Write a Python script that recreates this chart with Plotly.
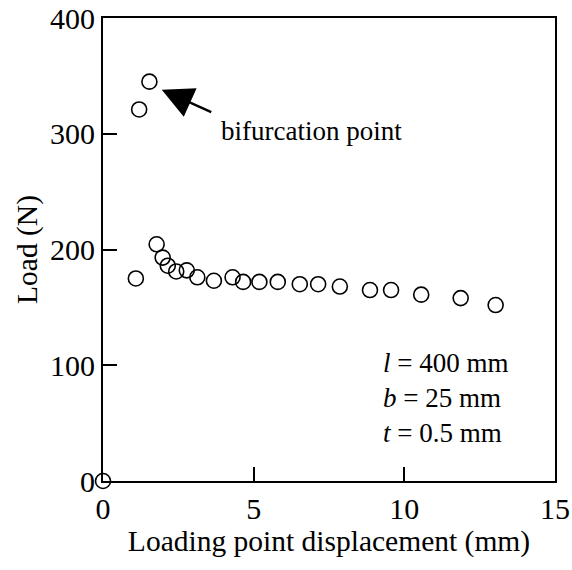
import plotly.graph_objects as go

# Data
disp = [0.0, 1.09, 1.20, 1.54, 1.78, 1.98, 2.15, 2.43, 2.78, 3.13, 3.68, 4.30, 4.65,
        5.19, 5.80, 6.53, 7.14, 7.86, 8.86, 9.56, 10.56, 11.87, 13.03]
load = [0, 175, 321, 345, 204.5, 193, 186, 181, 182, 176, 173, 176, 172,
        172, 172, 170, 170, 168, 165, 165, 161, 158, 152]

x_ticks = [0, 5, 10, 15]
y_ticks = [0, 100, 200, 300, 400]

FONT = "Liberation Serif, Times New Roman, serif"

fig = go.Figure()
fig.add_trace(go.Scatter(
    x=disp, y=load, mode="markers", cliponaxis=False,
    marker=dict(symbol="circle-open", size=15, color="black",
                line=dict(width=1.6, color="black")),
    showlegend=False,
))

fig.add_annotation(
    x=1.95, y=338, xref="x", yref="y", text="",
    showarrow=True, ax=51, ay=23, axref="pixel", ayref="pixel",
    arrowhead=2, arrowsize=2.6, arrowwidth=2.4, arrowcolor="black",
)
fig.add_annotation(
    x=3.85, y=302, xref="x", yref="y", text="bifurcation point",
    showarrow=False, xanchor="left", yanchor="middle",
    font=dict(family=FONT, size=27, color="black"),
)
fig.add_annotation(
    x=9.22, y=72, xref="x", yref="y",
    text="<i>l</i> = 400 mm<br><i>b</i> = 25 mm<br><i>t</i> = 0.5 mm",
    showarrow=False, xanchor="left", yanchor="middle", align="left",
    font=dict(family=FONT, size=27, color="black"),
)

axis_common = dict(
    showline=True, linecolor="black", linewidth=2, mirror=True,
    ticks="inside", ticklen=14, tickwidth=2, tickcolor="black",
    showgrid=False, zeroline=False, automargin=False,
    ticklabeloverflow="allow",
    tickfont=dict(family=FONT, size=30, color="black"),
)

fig.update_xaxes(range=[0, 15], tickvals=x_ticks, ticktext=[str(v) for v in x_ticks],
                 title=dict(text="Loading point displacement (mm)", standoff=4,
                            font=dict(family=FONT, size=29.5, color="black")),
                 **axis_common)
fig.update_yaxes(range=[0, 400], tickvals=y_ticks, ticktext=[str(v) for v in y_ticks],
                 title=dict(text="Load (N)", standoff=4,
                            font=dict(family=FONT, size=29.5, color="black")),
                 **axis_common)

fig.update_layout(
    width=572, height=570,
    margin=dict(l=103, r=17, t=18, b=89),
    plot_bgcolor="white", paper_bgcolor="white",
    font=dict(family=FONT, color="black"),
)

fig.write_html("out.html")
